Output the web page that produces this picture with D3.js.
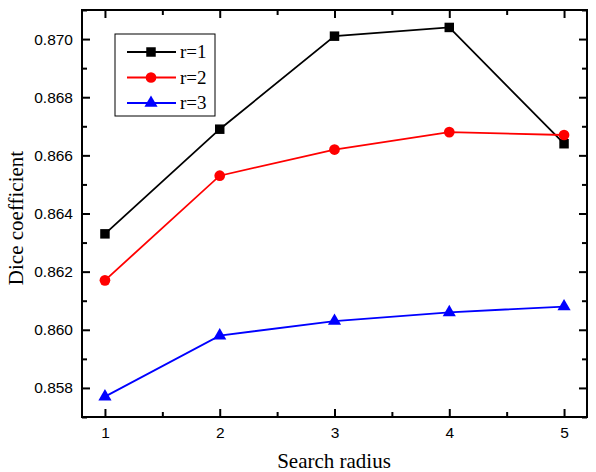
<!DOCTYPE html>
<html>
<head>
<script src="https://d3js.org/d3.v7.min.js"></script>
<style>
body { margin: 0; background: #fff; }
</style>
</head>
<body>
<script>
var radius = [1, 2, 3, 4, 5];
var r1 = [0.8633, 0.8669, 0.8701, 0.8704, 0.8664];
var r2 = [0.8617, 0.8653, 0.8662, 0.8668, 0.8667];
var r3 = [0.8577, 0.8598, 0.8603, 0.8606, 0.8608];
var seriesNames = ["r=1", "r=2", "r=3"];
var yTicks = [0.858, 0.860, 0.862, 0.864, 0.866, 0.868, 0.870];

var w = 596, h = 472;
var L = 82, R = 587, T = 10, B = 417;

var svg = d3.select("body").append("svg").attr("width", w).attr("height", h);

var x = d3.scaleLinear().domain([0.8, 5.2]).range([L, R]);
var y = d3.scaleLinear().domain([0.857, 0.871]).range([B, T]);

var minorX = [1.5, 2.5, 3.5, 4.5];
var minorY = [0.857, 0.859, 0.861, 0.863, 0.865, 0.867, 0.869, 0.871];

function styleAxis(g) {
    g.select(".domain").remove();
    g.selectAll("line").attr("stroke", "#000").attr("stroke-width", 2);
    g.selectAll("text").attr("font-family", "Liberation Sans, Arial, sans-serif").attr("font-size", "15.5px").attr("fill", "#000");
}

// major ticks (inward)
svg.append("g").attr("transform", "translate(0," + B + ")")
    .call(d3.axisBottom(x).tickValues(radius).tickSize(-8).tickPadding(10).tickFormat(d3.format("d")))
    .call(styleAxis);
svg.append("g").attr("transform", "translate(0," + T + ")")
    .call(d3.axisTop(x).tickValues(radius).tickSize(-8).tickFormat(""))
    .call(styleAxis);
svg.append("g").attr("transform", "translate(" + L + ",0)")
    .call(d3.axisLeft(y).tickValues(yTicks).tickSize(-8).tickPadding(9).tickFormat(d3.format(".3f")))
    .call(styleAxis);
svg.append("g").attr("transform", "translate(" + R + ",0)")
    .call(d3.axisRight(y).tickValues(yTicks).tickSize(-8).tickFormat(""))
    .call(styleAxis);

// minor ticks
svg.append("g").attr("transform", "translate(0," + B + ")")
    .call(d3.axisBottom(x).tickValues(minorX).tickSize(-5).tickFormat("")).call(styleAxis);
svg.append("g").attr("transform", "translate(0," + T + ")")
    .call(d3.axisTop(x).tickValues(minorX).tickSize(-5).tickFormat("")).call(styleAxis);
svg.append("g").attr("transform", "translate(" + L + ",0)")
    .call(d3.axisLeft(y).tickValues(minorY).tickSize(-5).tickFormat("")).call(styleAxis);
svg.append("g").attr("transform", "translate(" + R + ",0)")
    .call(d3.axisRight(y).tickValues(minorY).tickSize(-5).tickFormat("")).call(styleAxis);

// frame
svg.append("rect").attr("x", L).attr("y", T).attr("width", R - L).attr("height", B - T)
    .attr("fill", "none").attr("stroke", "#000").attr("stroke-width", 2);

var series = [
    { name: seriesNames[0], vals: r1, color: "#000000", shape: d3.symbolSquare, size: 90 },
    { name: seriesNames[1], vals: r2, color: "#ff0000", shape: d3.symbolCircle, size: 90 },
    { name: seriesNames[2], vals: r3, color: "#0000ff", shape: d3.symbolTriangle, size: 75 }
];

var line = d3.line().x(function(d, i) { return x(radius[i]); }).y(function(d) { return y(d); });

series.forEach(function(s) {
    svg.append("path").attr("d", line(s.vals)).attr("fill", "none")
        .attr("stroke", s.color).attr("stroke-width", 1.8);
    svg.selectAll(null).data(s.vals).enter().append("path")
        .attr("d", d3.symbol().type(s.shape).size(s.size))
        .attr("transform", function(d, i) { return "translate(" + x(radius[i]) + "," + y(d) + ")"; })
        .attr("fill", s.color);
});

// legend
var lg = svg.append("g");
lg.append("rect").attr("x", 115).attr("y", 34).attr("width", 100).attr("height", 82)
    .attr("fill", "#fff").attr("stroke", "#000").attr("stroke-width", 1);
series.forEach(function(s, i) {
    var ly = 52 + i * 25.5;
    lg.append("line").attr("x1", 127).attr("x2", 176).attr("y1", ly).attr("y2", ly)
        .attr("stroke", s.color).attr("stroke-width", 1.8);
    lg.append("path").attr("d", d3.symbol().type(s.shape).size(s.size))
        .attr("transform", "translate(151," + ly + ")").attr("fill", s.color);
    lg.append("text").attr("x", 180).attr("y", ly + 6).text(s.name)
        .attr("font-family", "Liberation Serif, Times New Roman, serif").attr("font-size", "19px");
});

// axis titles
svg.append("text").attr("x", 334).attr("y", 468).attr("text-anchor", "middle")
    .attr("font-family", "Liberation Serif, Times New Roman, serif").attr("font-size", "21px")
    .text("Search radius");
svg.append("text").attr("transform", "translate(23,218) rotate(-90)")
    .attr("text-anchor", "middle")
    .attr("font-family", "Liberation Serif, Times New Roman, serif").attr("font-size", "21px")
    .text("Dice coefficient");
</script>
</body>
</html>
